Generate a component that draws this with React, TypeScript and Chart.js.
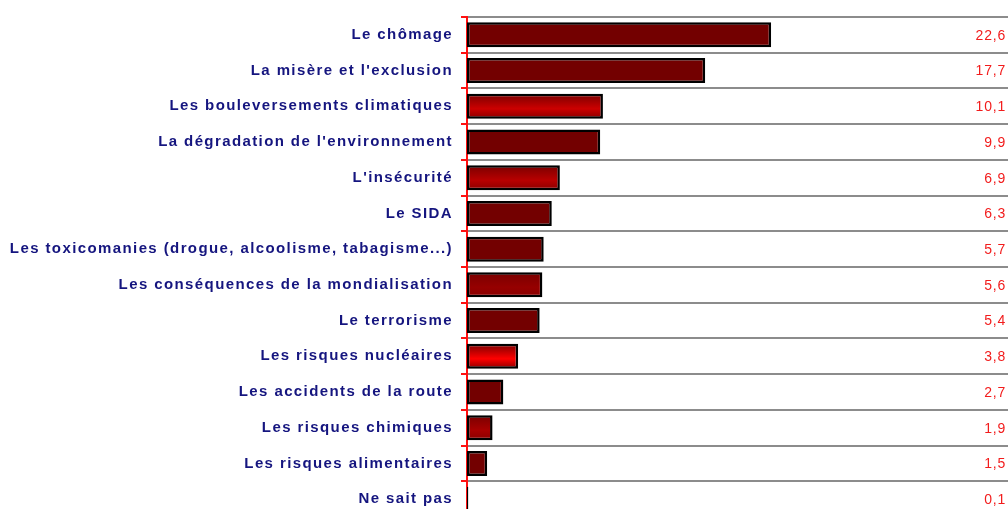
import React, { useEffect, useRef } from "react";
import { Chart, registerables } from "chart.js";

Chart.register(...registerables);

const categories = [
  "Le chômage",
  "La misère et l'exclusion",
  "Les bouleversements climatiques",
  "La dégradation de l'environnement",
  "L'insécurité",
  "Le SIDA",
  "Les toxicomanies (drogue, alcoolisme, tabagisme...)",
  "Les conséquences de la mondialisation",
  "Le terrorisme",
  "Les risques nucléaires",
  "Les accidents de la route",
  "Les risques chimiques",
  "Les risques alimentaires",
  "Ne sait pas",
];

const values = [22.6, 17.7, 10.1, 9.9, 6.9, 6.3, 5.7, 5.6, 5.4, 3.8, 2.7, 1.9, 1.5, 0.1];

// highlight (gradient middle) colour per bar; null = plain dark red
const highlightColors: (string | null)[] = [
  null, null, "#cc0000", null, "#b80000", null, null, "#960000", null, "#ff0000", null, "#a80000", null, null,
];

const BASE = "#730000";
const BAR_PCT = 0.7;
const FONT = "'Liberation Sans', Arial, sans-serif";

export default function App() {
  const ref = useRef<HTMLCanvasElement | null>(null);

  useEffect(() => {
    const canvas = ref.current;
    if (!canvas) return;

    const spacingPlugin = {
      id: "spacing",
      beforeDraw(chart: any) {
        chart.ctx.letterSpacing = "1.4px";
      },
    };

    const valuePlugin = {
      id: "values",
      afterDatasetsDraw(chart: any) {
        const { ctx, chartArea } = chart;
        const y = chart.scales.y;
        ctx.save();
        ctx.letterSpacing = "0.8px";
        ctx.font = `14px ${FONT}`;
        ctx.fillStyle = "#f21c1c";
        ctx.textAlign = "right";
        ctx.textBaseline = "middle";
        values.forEach((v, i) => {
          ctx.fillText(v.toFixed(1).replace(".", ","), chartArea.right - 2, y.getPixelForValue(i) + 1);
        });
        ctx.restore();
      },
    };

    const chart = new Chart(canvas, {
      type: "bar",
      data: {
        labels: categories,
        datasets: [
          {
            data: values,
            backgroundColor: (c: any) => {
              const hl = highlightColors[c.dataIndex];
              const chartObj = c.chart;
              if (!hl || !chartObj.chartArea) return BASE;
              const ys = chartObj.scales.y;
              const yc = ys.getPixelForValue(c.dataIndex);
              const band = (ys.bottom - ys.top) / categories.length;
              const half = (band * BAR_PCT) / 2;
              const g = chartObj.ctx.createLinearGradient(0, yc - half, 0, yc + half);
              g.addColorStop(0, "#7a0000");
              g.addColorStop(0.6, hl);
              g.addColorStop(1, "#8a0000");
              return g;
            },
            borderColor: "#000000",
            borderWidth: 2.5,
            borderSkipped: false,
            barPercentage: BAR_PCT,
            categoryPercentage: 1,
          },
        ],
      },
      options: {
        indexAxis: "y",
        animation: false,
        responsive: false,
        maintainAspectRatio: false,
        layout: { padding: { top: 15, bottom: 7, left: 0, right: 0 } },
        plugins: {
          legend: { display: false },
          tooltip: { enabled: false },
          title: { display: false },
        },
        scales: {
          x: {
            display: false,
            min: 0,
            max: 40.2,
          },
          y: {
            afterFit(scale: any) {
              scale.width = 467;
            },
            grid: {
              color: "#8c8c8c",
              lineWidth: 2,
              tickColor: "#ff1010",
              tickLength: 6,
              tickWidth: 2,
              offset: true,
            },
            border: { color: "#ff1010", width: 2 },
            ticks: {
              color: "#15157f",
              padding: 8,
              font: { family: FONT, size: 15, weight: "bold" },
              autoSkip: false,
            },
          },
        },
      },
      plugins: [spacingPlugin, valuePlugin],
    } as any);

    return () => chart.destroy();
  }, []);

  return (
    <div style={{ position: "fixed", left: 0, top: 0, width: 1008, height: 534, background: "#fff" }}>
      <canvas ref={ref} width={1008} height={534} style={{ display: "block" }} />
    </div>
  );
}
